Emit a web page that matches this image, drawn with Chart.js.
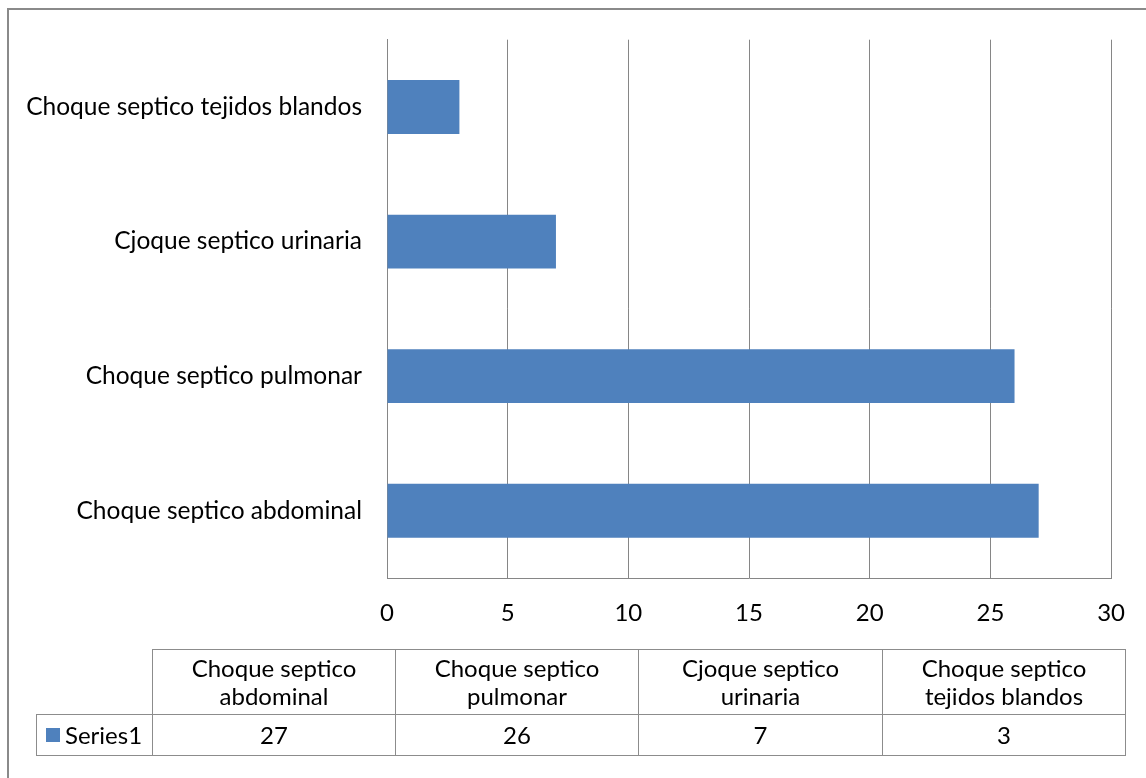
<!DOCTYPE html>
<html>
<head>
<meta charset="utf-8">
<script src="https://cdn.jsdelivr.net/npm/chart.js@4"></script>
<style>
  html, body { margin: 0; padding: 0; background: #fff; overflow: hidden; }
  body { width: 1146px; height: 778px; position: relative; font-family: Lato, "Open Sans", sans-serif; }
  #frame { position: absolute; left: 7px; top: 8px; width: 1150px; height: 790px; border: 2px solid #8a8a8a; box-sizing: border-box; }
  #wrap { position: absolute; left: 0; top: 0; width: 1146px; height: 778px; }
  .cell { position: absolute; box-sizing: border-box; border: 1px solid #8c8c8c; display: flex; align-items: center; justify-content: center; text-align: center; font-size: 24px; line-height: 28px; color: #000; }
  .key { display: inline-block; width: 14px; height: 14px; background: #4F81BD; margin-right: 5px; }
</style>
</head>
<body>
<div id="frame"></div>
<div id="wrap"><canvas id="chart"></canvas></div>
<div id="table"></div>
<script>
// datos del grafico
const categories = ['Choque septico abdominal', 'Choque septico pulmonar', 'Cjoque septico urinaria', 'Choque septico tejidos blandos'];
const tableHeaders = [['Choque septico', 'abdominal'], ['Choque septico', 'pulmonar'], ['Cjoque septico', 'urinaria'], ['Choque septico', 'tejidos blandos']];
const seriesName = 'Series1';
const seriesValues = [27, 26, 7, 3];
const xTicks = [0, 5, 10, 15, 20, 25, 30];

const barColor = '#4F81BD';
const gridColor = '#868686';
const fontFamily = 'Lato, "Open Sans", sans-serif';

// Chart banaana
const ctx = document.getElementById('chart').getContext('2d');
new Chart(ctx, {
    type: 'bar',
    data: {
        labels: categories,
        datasets: [{
            label: seriesName,
            data: seriesValues,
            backgroundColor: barColor,
            categoryPercentage: 1,
            barPercentage: 0.4
        }]
    },
    options: {
        indexAxis: 'y',
        responsive: true,
        maintainAspectRatio: false,
        animation: false,
        layout: { padding: { top: 38, right: 34, left: 0, bottom: 150 } },
        plugins: {
            legend: { display: false },
            tooltip: { enabled: false }
        },
        scales: {
            x: {
                min: 0,
                max: 30,
                afterBuildTicks: axis => { axis.ticks = xTicks.map(v => ({ value: v })); },
                afterFit: axis => { axis.height = 50; },
                grid: { color: gridColor, lineWidth: 1, drawTicks: false },
                border: { color: gridColor, width: 1 },
                ticks: { color: '#000', padding: 21, font: { family: fontFamily, size: 24 } }
            },
            y: {
                reverse: true,
                afterFit: axis => { axis.width = 387; },
                grid: { display: false, drawTicks: false },
                border: { color: gridColor, width: 1 },
                ticks: { color: '#000', padding: 25, font: { family: fontFamily, size: 24.5 } }
            }
        }
    }
});

// Data table neeche
function buildTable() {
    const table = document.getElementById('table');
    const colX = [152, 395, 638, 882, 1125];
    const top = 649, mid = 714, bottom = 755;
    let html = '';
    tableHeaders.forEach((lines, i) => {
        html += `<div class="cell" style="left:${colX[i]}px;top:${top}px;width:${colX[i + 1] - colX[i] + 1}px;height:${mid - top + 1}px">${lines.join('<br>')}</div>`;
        html += `<div class="cell" style="left:${colX[i]}px;top:${mid}px;width:${colX[i + 1] - colX[i] + 1}px;height:${bottom - mid + 1}px">${seriesValues[i]}</div>`;
    });
    html += `<div class="cell" style="left:36px;top:${mid}px;width:${colX[0] - 36 + 1}px;height:${bottom - mid + 1}px;justify-content:flex-start;padding-left:9px"><span class="key"></span>${seriesName}</div>`;
    table.innerHTML = html;
}
buildTable();
</script>
</body>
</html>
